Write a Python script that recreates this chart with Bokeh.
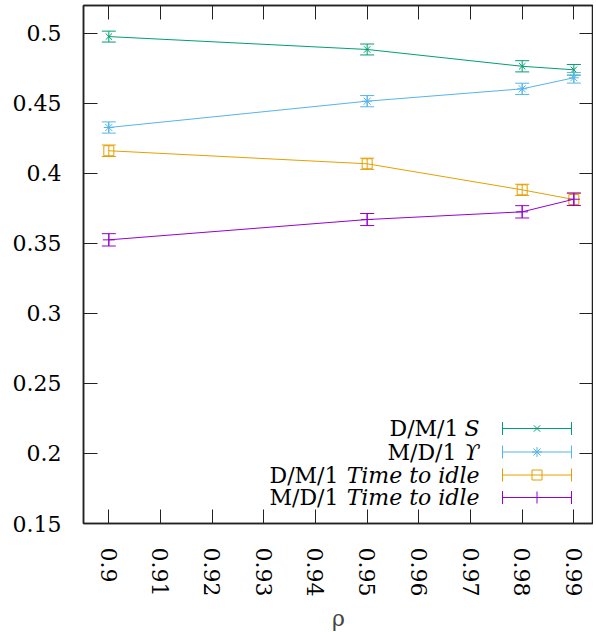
from bokeh.plotting import figure
from bokeh.models import (ColumnDataSource, FixedTicker, LinearAxis, Range1d, Label)
from bokeh.embed import file_html
from bokeh.resources import INLINE

# ---------------- data ----------------
rho = [0.9, 0.95, 0.98, 0.99]

dm1_s = [0.4976, 0.4884, 0.4764, 0.4739]
dm1_s_err = [0.0039, 0.0039, 0.0040, 0.0038]

md1_u = [0.4327, 0.4515, 0.4603, 0.4682]
md1_u_err = [0.0040, 0.0040, 0.0040, 0.0038]

dm1_idle = [0.4161, 0.4068, 0.3882, 0.3813]
dm1_idle_err = [0.0041, 0.0040, 0.0040, 0.0043]

md1_idle = [0.3525, 0.3670, 0.3725, 0.3815]
md1_idle_err = [0.0044, 0.0043, 0.0044, 0.0045]

x_ticks = [0.9, 0.91, 0.92, 0.93, 0.94, 0.95, 0.96, 0.97, 0.98, 0.99]
x_tick_labels = ["0.9", "0.91", "0.92", "0.93", "0.94", "0.95", "0.96", "0.97", "0.98", "0.99"]
y_ticks = [0.15, 0.2, 0.25, 0.3, 0.35, 0.4, 0.45, 0.5]
y_tick_labels = ["0.15", "0.2", "0.25", "0.3", "0.35", "0.4", "0.45", "0.5"]

series = [
    # upright part, italic part, values, errors, colour, marker, size
    ("D/M/1", "S", dm1_s, dm1_s_err, "#009e73", "x", 9),
    ("M/D/1", "\u03d2", md1_u, md1_u_err, "#56b4e9", "asterisk", 10),
    ("D/M/1", "Time to idle", dm1_idle, dm1_idle_err, "#e69f00", "square", 10),
    ("M/D/1", "Time to idle", md1_idle, md1_idle_err, "#9400d3", "cross", 12),
]

# ---------------- layout ----------------
FONT = "DejaVu Serif"
FS = 22
PX_PER_X = 5167.0
X0 = 0.8951
FW, FH = 510, 518
X1 = X0 + FW / PX_PER_X
Y0, Y1 = 0.15, 0.5198
FL, FT = 83, 5  # frame position on the page


def px2x(px):
    return X0 + (px - FL) / FW * (X1 - X0)


def py2y(py):
    return Y1 - (py - FT) / FH * (Y1 - Y0)


CAP_HALF = 7 / PX_PER_X  # half width of the error-bar caps (7 px)

p = figure(frame_width=FW, frame_height=FH,
           x_range=Range1d(X0, X1), y_range=Range1d(Y0, Y1),
           output_backend="svg", toolbar_location=None,
           min_border_left=FL, min_border_right=0,
           min_border_top=FT, min_border_bottom=0)
p.background_fill_color = "white"
p.border_fill_color = "white"
p.grid.visible = False
p.outline_line_color = "#222222"
p.outline_line_width = 1.5

xt = FixedTicker(ticks=x_ticks)
yt = FixedTicker(ticks=y_ticks)

for ax in (p.xaxis[0], p.yaxis[0]):
    ax.major_tick_in = 14
    ax.major_tick_out = 0
    ax.minor_tick_line_color = None
    ax.major_tick_line_color = "#222222"
    ax.axis_line_color = "#222222"
    ax.axis_line_width = 1.5
    ax.major_label_text_font = FONT
    ax.major_label_text_font_size = f"{FS}px"
    ax.major_label_text_color = "black"

p.xaxis[0].ticker = xt
p.yaxis[0].ticker = yt
p.xaxis[0].major_label_overrides = dict(zip(x_ticks, x_tick_labels))
p.yaxis[0].major_label_overrides = dict(zip(y_ticks, y_tick_labels))
p.xaxis[0].major_label_orientation = "vertical"
p.xaxis[0].major_label_standoff = 24
p.yaxis[0].major_label_standoff = 22
p.xaxis[0].axis_label = "\u03c1"
p.xaxis[0].axis_label_text_font = FONT
p.xaxis[0].axis_label_text_font_size = f"{FS}px"
p.xaxis[0].axis_label_text_font_style = "normal"
p.xaxis[0].axis_label_standoff = 7

# mirrored ticks on top and right
top = LinearAxis(ticker=xt)
right = LinearAxis(ticker=yt)
for ax in (top, right):
    ax.major_tick_in = 14
    ax.major_tick_out = 0
    ax.minor_tick_line_color = None
    ax.major_tick_line_color = "#222222"
    ax.axis_line_color = "#222222"
    ax.axis_line_width = 1.5
    ax.major_label_text_font_size = "0px"
    ax.major_label_standoff = 0
    ax.major_label_text_alpha = 0
p.add_layout(top, "above")
p.add_layout(right, "right")

# ---------------- series ----------------
for up, it, vals, errs, col, mk, sz in series:
    upper = [v + e for v, e in zip(vals, errs)]
    lower = [v - e for v, e in zip(vals, errs)]
    src = ColumnDataSource(dict(
        x=rho, y=vals, upper=upper, lower=lower,
        xl=[r - CAP_HALF for r in rho], xr=[r + CAP_HALF for r in rho]))
    p.line("x", "y", source=src, line_color=col, line_width=1)
    p.segment(x0="x", y0="lower", x1="x", y1="upper", source=src,
              line_color=col, line_width=1)
    p.segment(x0="xl", y0="upper", x1="xr", y1="upper", source=src,
              line_color=col, line_width=1)
    p.segment(x0="xl", y0="lower", x1="xr", y1="lower", source=src,
              line_color=col, line_width=1)
    p.scatter("x", "y", source=src, marker=mk, size=sz, line_color=col,
              fill_color=None, line_width=1)

# ---------------- legend (drawn by hand for mixed italic text) ----------------
leg_rows = [428, 451.5, 474.5, 497]
italic_widths = [14, 16, 134, 134]   # approx rendered width of italic parts
text_right = 479
samp_l, samp_r, samp_c = 502, 571, 536.5
cap_half = 6.5
for (up, it, vals, errs, col, mk, sz), ry, iw in zip(series, leg_rows, italic_widths):
    yy = py2y(ry)
    for x0_, y0_, x1_, y1_ in ((samp_l, ry, samp_r, ry),
                               (samp_l, ry - cap_half, samp_l, ry + cap_half),
                               (samp_r, ry - cap_half, samp_r, ry + cap_half)):
        p.segment(x0=[px2x(x0_)], y0=[py2y(y0_)], x1=[px2x(x1_)], y1=[py2y(y1_)],
                  line_color=col, line_width=1)
    p.scatter(x=[px2x(samp_c)], y=[yy], marker=mk, size=sz, line_color=col,
              fill_color=None, line_width=1)
    p.add_layout(Label(x=px2x(text_right), y=yy, text=it, text_align="right",
                       text_baseline="middle", text_font=FONT,
                       text_font_size=f"{FS}px", text_font_style="italic",
                       text_color="black"))
    p.add_layout(Label(x=px2x(text_right - iw - 7), y=yy, text=up,
                       text_align="right", text_baseline="middle",
                       text_font=FONT, text_font_size=f"{FS}px",
                       text_color="black"))

open("out.html", "w").write(file_html(p, INLINE))
